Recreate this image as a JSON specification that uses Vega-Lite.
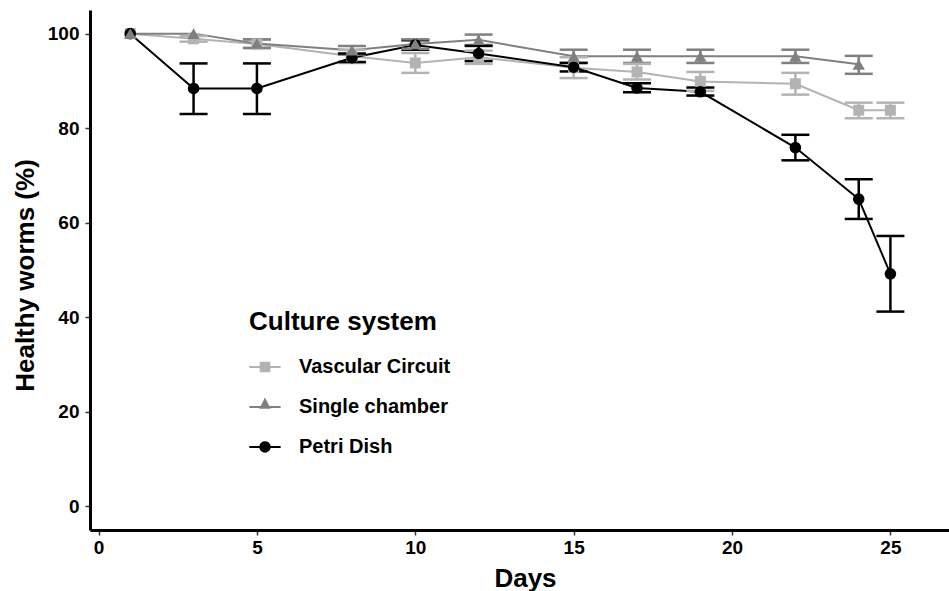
{
  "$schema": "https://vega.github.io/schema/vega-lite/v6.json",
  "width": 859,
  "height": 520,
  "autosize": {"type": "none"},
  "padding": {"left": 90, "top": 10, "right": 0, "bottom": 61},
  "background": "white",
  "config": {
    "view": {"stroke": null},
    "font": "Liberation Sans",
    "axis": {
      "grid": false,
      "domainColor": "black",
      "domainWidth": 3,
      "tickColor": "#333333",
      "tickWidth": 1.5,
      "tickSize": 5,
      "labelFont": "Liberation Sans",
      "labelFontSize": 19,
      "labelFontWeight": "bold",
      "labelColor": "black",
      "titleFont": "Liberation Sans",
      "titleFontSize": 26,
      "titleFontWeight": "bold",
      "titleColor": "black"
    },
    "legend": {
      "orient": "none", "legendX": 159, "legendY": 299,
      "titleFontSize": 26, "titleFontWeight": "bold", "titleColor": "black", "titleFont": "Liberation Sans", "titleLimit": 500,
      "labelFontSize": 20, "labelFontWeight": "bold", "labelColor": "black", "labelFont": "Liberation Sans", "labelLimit": 400,
      "symbolSize": 980, "symbolStrokeWidth": 0, "symbolOpacity": 1,
      "labelOffset": 18, "rowPadding": 14, "titlePadding": 16, "padding": 0
    }
  },
  "data": {
    "values": [
      {"system": "Vascular Circuit", "day": 1, "value": 100},
      {"system": "Vascular Circuit", "day": 3, "value": 98.9, "lo": 98.3, "hi": 99.5},
      {"system": "Vascular Circuit", "day": 5, "value": 97.8, "lo": 96.9, "hi": 98.7},
      {"system": "Vascular Circuit", "day": 8, "value": 95.2, "lo": 93.8, "hi": 96.6},
      {"system": "Vascular Circuit", "day": 10, "value": 93.8, "lo": 91.7, "hi": 95.9},
      {"system": "Vascular Circuit", "day": 12, "value": 95.0, "lo": 93.6, "hi": 96.4},
      {"system": "Vascular Circuit", "day": 15, "value": 92.8, "lo": 90.6, "hi": 95.0},
      {"system": "Vascular Circuit", "day": 17, "value": 91.9, "lo": 90.3, "hi": 93.6},
      {"system": "Vascular Circuit", "day": 19, "value": 89.9, "lo": 87.9, "hi": 91.9},
      {"system": "Vascular Circuit", "day": 22, "value": 89.4, "lo": 87.1, "hi": 91.7},
      {"system": "Vascular Circuit", "day": 24, "value": 83.8, "lo": 82.1, "hi": 85.4},
      {"system": "Vascular Circuit", "day": 25, "value": 83.8, "lo": 82.1, "hi": 85.4},
      {"system": "Petri Dish", "day": 1, "value": 100},
      {"system": "Petri Dish", "day": 3, "value": 88.4, "lo": 83.0, "hi": 93.7},
      {"system": "Petri Dish", "day": 5, "value": 88.4, "lo": 83.0, "hi": 93.7},
      {"system": "Petri Dish", "day": 8, "value": 94.9, "lo": 94.0, "hi": 95.8},
      {"system": "Petri Dish", "day": 10, "value": 97.6, "lo": 96.6, "hi": 98.6},
      {"system": "Petri Dish", "day": 12, "value": 95.8, "lo": 94.2, "hi": 97.4},
      {"system": "Petri Dish", "day": 15, "value": 92.9, "lo": 92.0, "hi": 93.8},
      {"system": "Petri Dish", "day": 17, "value": 88.5, "lo": 87.6, "hi": 89.5},
      {"system": "Petri Dish", "day": 19, "value": 87.7, "lo": 86.9, "hi": 88.6},
      {"system": "Petri Dish", "day": 22, "value": 75.9, "lo": 73.2, "hi": 78.6},
      {"system": "Petri Dish", "day": 24, "value": 65.0, "lo": 60.8, "hi": 69.2},
      {"system": "Petri Dish", "day": 25, "value": 49.2, "lo": 41.2, "hi": 57.2},
      {"system": "Single chamber", "day": 1, "value": 100},
      {"system": "Single chamber", "day": 3, "value": 100},
      {"system": "Single chamber", "day": 5, "value": 97.9, "lo": 97.0, "hi": 98.8},
      {"system": "Single chamber", "day": 8, "value": 96.5, "lo": 95.6, "hi": 97.4},
      {"system": "Single chamber", "day": 10, "value": 97.8, "lo": 96.8, "hi": 98.8},
      {"system": "Single chamber", "day": 12, "value": 98.7, "lo": 97.6, "hi": 99.8},
      {"system": "Single chamber", "day": 15, "value": 95.2, "lo": 93.8, "hi": 96.6},
      {"system": "Single chamber", "day": 17, "value": 95.2, "lo": 93.8, "hi": 96.6},
      {"system": "Single chamber", "day": 19, "value": 95.2, "lo": 93.8, "hi": 96.6},
      {"system": "Single chamber", "day": 22, "value": 95.2, "lo": 93.8, "hi": 96.6},
      {"system": "Single chamber", "day": 24, "value": 93.5, "lo": 91.5, "hi": 95.3}
    ]
  },
  "encoding": {
    "x": {
      "field": "day", "type": "quantitative",
      "scale": {"domain": [-0.27, 26.85], "nice": false, "zero": false},
      "axis": {"title": "Days", "values": [0, 5, 10, 15, 20, 25], "labelPadding": 3, "titleBaseline": "alphabetic", "titleY": 56, "titleX": 435}
    },
    "color": {
      "field": "system", "type": "nominal",
      "scale": {"domain": ["Vascular Circuit", "Single chamber", "Petri Dish"], "range": ["#b3b3b3", "#808080", "#000000"]},
      "legend": {"title": "Culture system"}
    }
  },
  "layer": [
    {
      "mark": {"type": "line", "strokeWidth": 2},
      "encoding": {
        "y": {
          "field": "value", "type": "quantitative",
          "scale": {"domain": [-5, 105], "nice": false, "zero": false},
          "axis": {"title": "Healthy worms (%)", "values": [0, 20, 40, 60, 80, 100], "labelPadding": 6, "titleBaseline": "alphabetic", "titleX": -57, "titleY": 265}
        }
      }
    },
    {
      "transform": [{"filter": "isValid(datum.lo)"}],
      "mark": {"type": "rule", "strokeWidth": 2.5},
      "encoding": {"y": {"field": "lo", "type": "quantitative"}, "y2": {"field": "hi"}}
    },
    {
      "transform": [{"filter": "isValid(datum.lo)"}],
      "mark": {"type": "tick", "orient": "horizontal", "size": 28, "thickness": 2.5, "opacity": 1},
      "encoding": {"y": {"field": "lo", "type": "quantitative"}}
    },
    {
      "transform": [{"filter": "isValid(datum.hi)"}],
      "mark": {"type": "tick", "orient": "horizontal", "size": 28, "thickness": 2.5, "opacity": 1},
      "encoding": {"y": {"field": "hi", "type": "quantitative"}}
    },
    {
      "transform": [{"filter": "datum.system === 'Vascular Circuit'"}],
      "mark": {"type": "point", "filled": true, "opacity": 1, "size": 120, "shape": "square"},
      "encoding": {"y": {"field": "value", "type": "quantitative"}}
    },
    {
      "transform": [{"filter": "datum.system === 'Petri Dish'"}],
      "mark": {"type": "point", "filled": true, "opacity": 1, "size": 135, "shape": "circle"},
      "encoding": {"y": {"field": "value", "type": "quantitative"}}
    },
    {
      "transform": [{"filter": "datum.system === 'Single chamber'"}],
      "mark": {"type": "point", "filled": true, "opacity": 1, "size": 150, "shape": "triangle-up"},
      "encoding": {"y": {"field": "value", "type": "quantitative"}}
    },
    {
      "mark": {"type": "point", "filled": true, "opacity": 0, "size": 10},
      "encoding": {
        "y": {"field": "value", "type": "quantitative"},
        "shape": {
          "field": "system", "type": "nominal",
          "scale": {
            "domain": ["Vascular Circuit", "Single chamber", "Petri Dish"],
            "range": [
              "M-1,-0.07H-0.34V-0.34H0.34V-0.07H1V0.07H0.34V0.34H-0.34V0.07H-1Z",
              "M-1,-0.07H-0.276L0,-0.6L0.276,-0.07H1V0.07H0.349L0.37,0.11H-0.37L-0.349,0.07H-1Z",
              "M-1,-0.07H-0.363A0.37,0.37 0 0 1 0.363,-0.07H1V0.07H0.363A0.37,0.37 0 0 1 -0.363,0.07H-1Z"
            ]
          },
          "legend": {"title": "Culture system"}
        }
      }
    }
  ]
}
